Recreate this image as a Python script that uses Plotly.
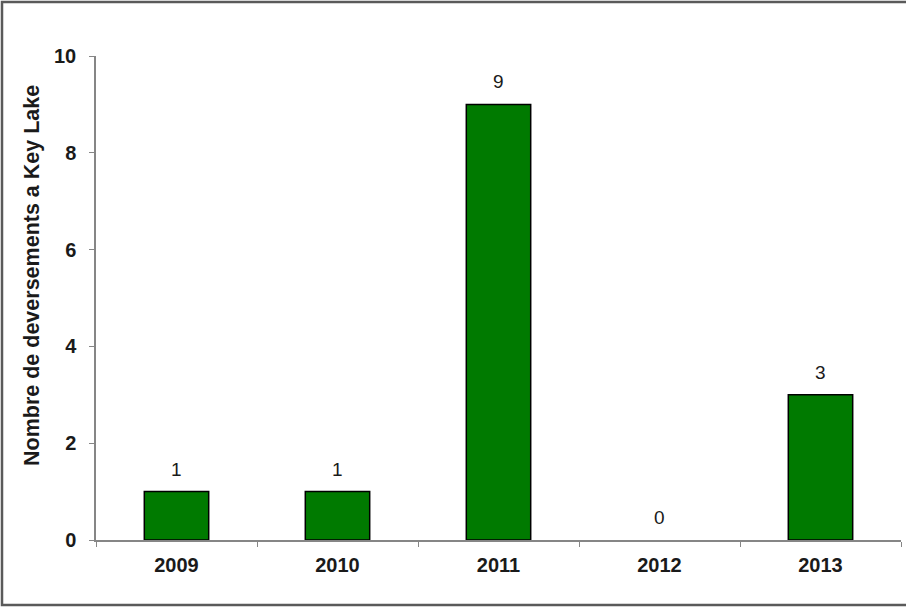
import plotly.graph_objects as go

years = ["2009", "2010", "2011", "2012", "2013"]
spills = [1, 1, 9, 0, 3]
y_ticks = [0, 2, 4, 6, 8, 10]
y_title = "Nombre de deversements a Key Lake"

bar_green = "#007a00"
axis_grey = "#868686"
text_dark = "#1a1a1a"
font_name = "Liberation Sans, Arial"

fig = go.Figure()
# no outline on an empty bar (2012), otherwise a thin line shows on the axis
outline = [1.5 if v > 0 else 0 for v in spills]
fig.add_trace(go.Bar(x=years, y=spills, width=0.40,
                     marker=dict(color=bar_green, line=dict(color="black", width=outline)),
                     showlegend=False, hoverinfo="x+y"))

# value labels above each bar (also the empty 2012 one), placed by category index
annotations = []
for i, val in enumerate(spills):
    annotations.append(dict(x=i, y=val, xref="x", yref="y", text=str(val), showarrow=False,
                            yanchor="bottom", yshift=10,
                            font=dict(family=font_name, size=19, color=text_dark)))

# frame around the whole picture (pixel positions converted to paper coords)
l, r, t, b = 96, 5, 56, 69
pw, ph = 906 - l - r, 609 - t - b


def px_x(p):
    return (p - l) / pw


def px_y(p):
    return (609 - b - p) / ph


# y title sits a bit above the middle of the axis in the original, so place it by hand
annotations.append(dict(xref="paper", yref="paper", x=px_x(32), y=px_y(276),
                        text=y_title, textangle=-90, showarrow=False,
                        xanchor="center", yanchor="middle",
                        font=dict(family=font_name, size=21.5, color=text_dark, weight="bold")))

shapes = [dict(type="rect", xref="paper", yref="paper",
               x0=px_x(2), x1=px_x(910), y0=px_y(605), y1=px_y(2),
               line=dict(color="#5a5a5a", width=2.5))]

fig.update_layout(
    width=906, height=609,
    margin=dict(l=l, r=r, t=t, b=b, autoexpand=False),
    paper_bgcolor="white", plot_bgcolor="white",
    font=dict(family=font_name, color=text_dark),
    annotations=annotations,
    shapes=shapes,
    xaxis=dict(type="category", range=[-0.5, len(years) - 0.5],
               showline=True, linecolor=axis_grey, linewidth=1.5,
               ticks="outside", tickson="boundaries", ticklen=5, tickcolor=axis_grey,
               ticklabelstandoff=6,
               tickfont=dict(size=20, family=font_name, weight="bold"),
               showgrid=False, zeroline=False, automargin=False),
    yaxis=dict(range=[0, 10], tickvals=y_ticks, showline=True, linecolor=axis_grey, linewidth=1.5,
               ticks="outside", ticklen=5, tickcolor=axis_grey,
               ticklabelstandoff=9,
               tickfont=dict(size=20, family=font_name, weight="bold"),
               showgrid=False, zeroline=False, automargin=False),
)

fig.write_html("out.html", config={"displayModeBar": False},
               post_script="document.body.style.margin = '0';")
